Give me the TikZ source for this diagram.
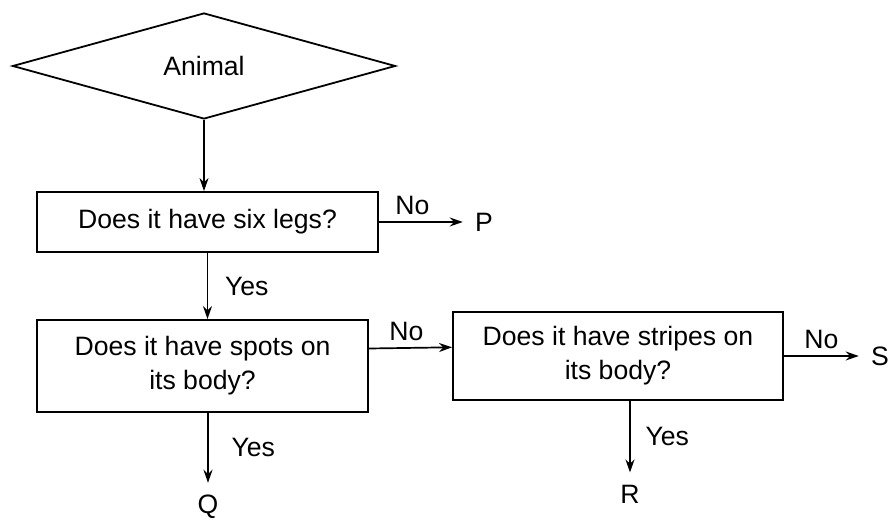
\documentclass[tikz,border=0pt]{standalone}
\usepackage{fontspec}
\setmainfont{Liberation Sans}
\usetikzlibrary{shapes.geometric,arrows.meta}
\begin{document}
\begin{tikzpicture}[x=0.5pt,y=-0.5pt,font=\fontsize{13.3}{17}\selectfont]
  \useasboundingbox (0,0) rectangle (896,522);

  \node[diamond,draw,line width=0.9pt,minimum width=191.5pt,minimum height=53pt,inner sep=0pt] (animal) at (204,66) {Animal};

  \begin{scope}[every node/.style={rectangle,draw,line width=0.9pt,align=center}]
    \node[minimum width=170.5pt,minimum height=30pt] (q1) at (207.5,222) {Does it have six legs?};
    \node[minimum width=165.5pt,minimum height=46pt] (q2) at (202.5,366) {Does it have spots on\\its body?};
    \node[minimum width=165pt,minimum height=44pt] (q3) at (618,356) {Does it have stripes on\\its body?};
  \end{scope}

  \begin{scope}[every node/.style={inner sep=6pt}]
    \node (P) at (484,222) {P};
    \node (Q) at (208,507) {Q};
    \node (R) at (630,494) {R};
    \node (S) at (880,356) {S};
  \end{scope}

  \begin{scope}[every edge/.style={draw,line width=0.85pt,-{Stealth[length=6.5pt,width=4.5pt]}}]
    \path (animal.south) edge (animal.south |- q1.north);
    \path (q1.east) edge node[above,pos=0.4] {No} (P);
    \path (q1.south) edge node[right,xshift=5pt] {Yes} (q1.south |- q2.north);
    \path (q2.6) edge node[above,pos=0.45] {No} (q3.177);
    \path (q2.south -| Q) edge node[right,xshift=8pt] {Yes} (Q);
    \path (q3.east) edge node[above] {No} (S);
    \path (q3.south -| R) edge node[right,xshift=4pt] {Yes} (R);
  \end{scope}

\end{tikzpicture}
\end{document}
